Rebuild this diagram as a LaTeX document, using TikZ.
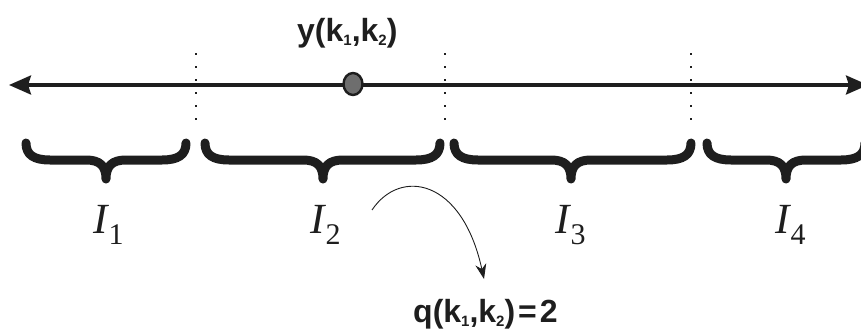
\documentclass[tikz,border=0pt]{standalone}
\usepackage{fontspec}
\setmainfont{Liberation Serif}
\newfontfamily\lsans{Liberation Sans}
\usetikzlibrary{arrows.meta,shapes.geometric}
\definecolor{ink}{HTML}{1E1E1E}
\definecolor{dotgray}{HTML}{6E6E6E}
\newcommand{\Ilab}[1]{{\fontsize{43}{43}\selectfont\itshape I}\kern1pt\raisebox{-11pt}{\fontsize{30}{30}\selectfont #1}}
\newcommand{\ksub}[1]{\raisebox{-4pt}{\fontsize{15}{15}\selectfont #1}}
\begin{document}
\begin{tikzpicture}[x=1pt,y=-1pt,
  axisline/.style={line width=3.4pt,draw=ink,{Stealth[length=22pt,width=19pt,inset=3pt]}-{Stealth[length=22pt,width=19pt,inset=3pt]}},
  sep/.style={draw=ink,line width=1.7pt,dash pattern=on 1.7pt off 11.3pt},
  bracestyle/.style={draw=ink,line width=9pt,line cap=round,line join=round},
  ilabel/.style={anchor=base west,inner sep=0pt,text=ink},
  boldlab/.style={anchor=base west,inner sep=0pt,text=ink,font=\lsans\bfseries\fontsize{32}{32}\selectfont},
  curvearrow/.style={draw=ink,line width=0.9pt,-{Stealth[length=15pt,width=11pt]}}]
\useasboundingbox (0,0) rectangle (861,332);
% axis
\coordinate (aL) at (9,85);
\coordinate (aR) at (868,85);
\draw[axisline] (aL) -- (aR);
% separators
\foreach \n/\x in {s1/196,s2/445,s3/691}{
  \coordinate (\n t) at (\x,53);
  \coordinate (\n b) at (\x,120);
  \draw[sep] (\n t) -- (\n b);
}
% point
\node[ellipse,draw=ink,line width=2.4pt,fill=dotgray,minimum width=19pt,minimum height=22pt,inner sep=0pt] (pt) at (353,84) {};
\node[boldlab] (ylab) at (297,41) {y(k\ksub{1},k\ksub{2})};
% braces
\foreach \a/\m/\b in {26/106/186,205/323/440,454/571/691,707/786/865}{
  \draw[bracestyle] (\a,143) .. controls (\a,155) and (\a+8,160) .. (\a+24,160)
    -- (\m-20,160) .. controls (\m-6,160) and (\m,166) .. (\m,179)
    .. controls (\m,166) and (\m+6,160) .. (\m+20,160)
    -- (\b-24,160) .. controls (\b-8,160) and (\b,155) .. (\b,143);
}
% labels
\node[ilabel] (i1) at (93,233) {\Ilab{1}};
\node[ilabel] (i2) at (310,233) {\Ilab{2}};
\node[ilabel] (i3) at (555,233) {\Ilab{3}};
\node[ilabel] (i4) at (775,233) {\Ilab{4}};
% q label and curved arrow
\node[boldlab] (qlab) at (413,322) {q(k\ksub{1},k\ksub{2})\kern3pt=\kern3pt2};
\coordinate (cs) at (372,210);
\coordinate (ce) at (484,279);
\draw[curvearrow] (cs) .. controls (400,168) and (462,178) .. (ce);
\end{tikzpicture}
\end{document}
